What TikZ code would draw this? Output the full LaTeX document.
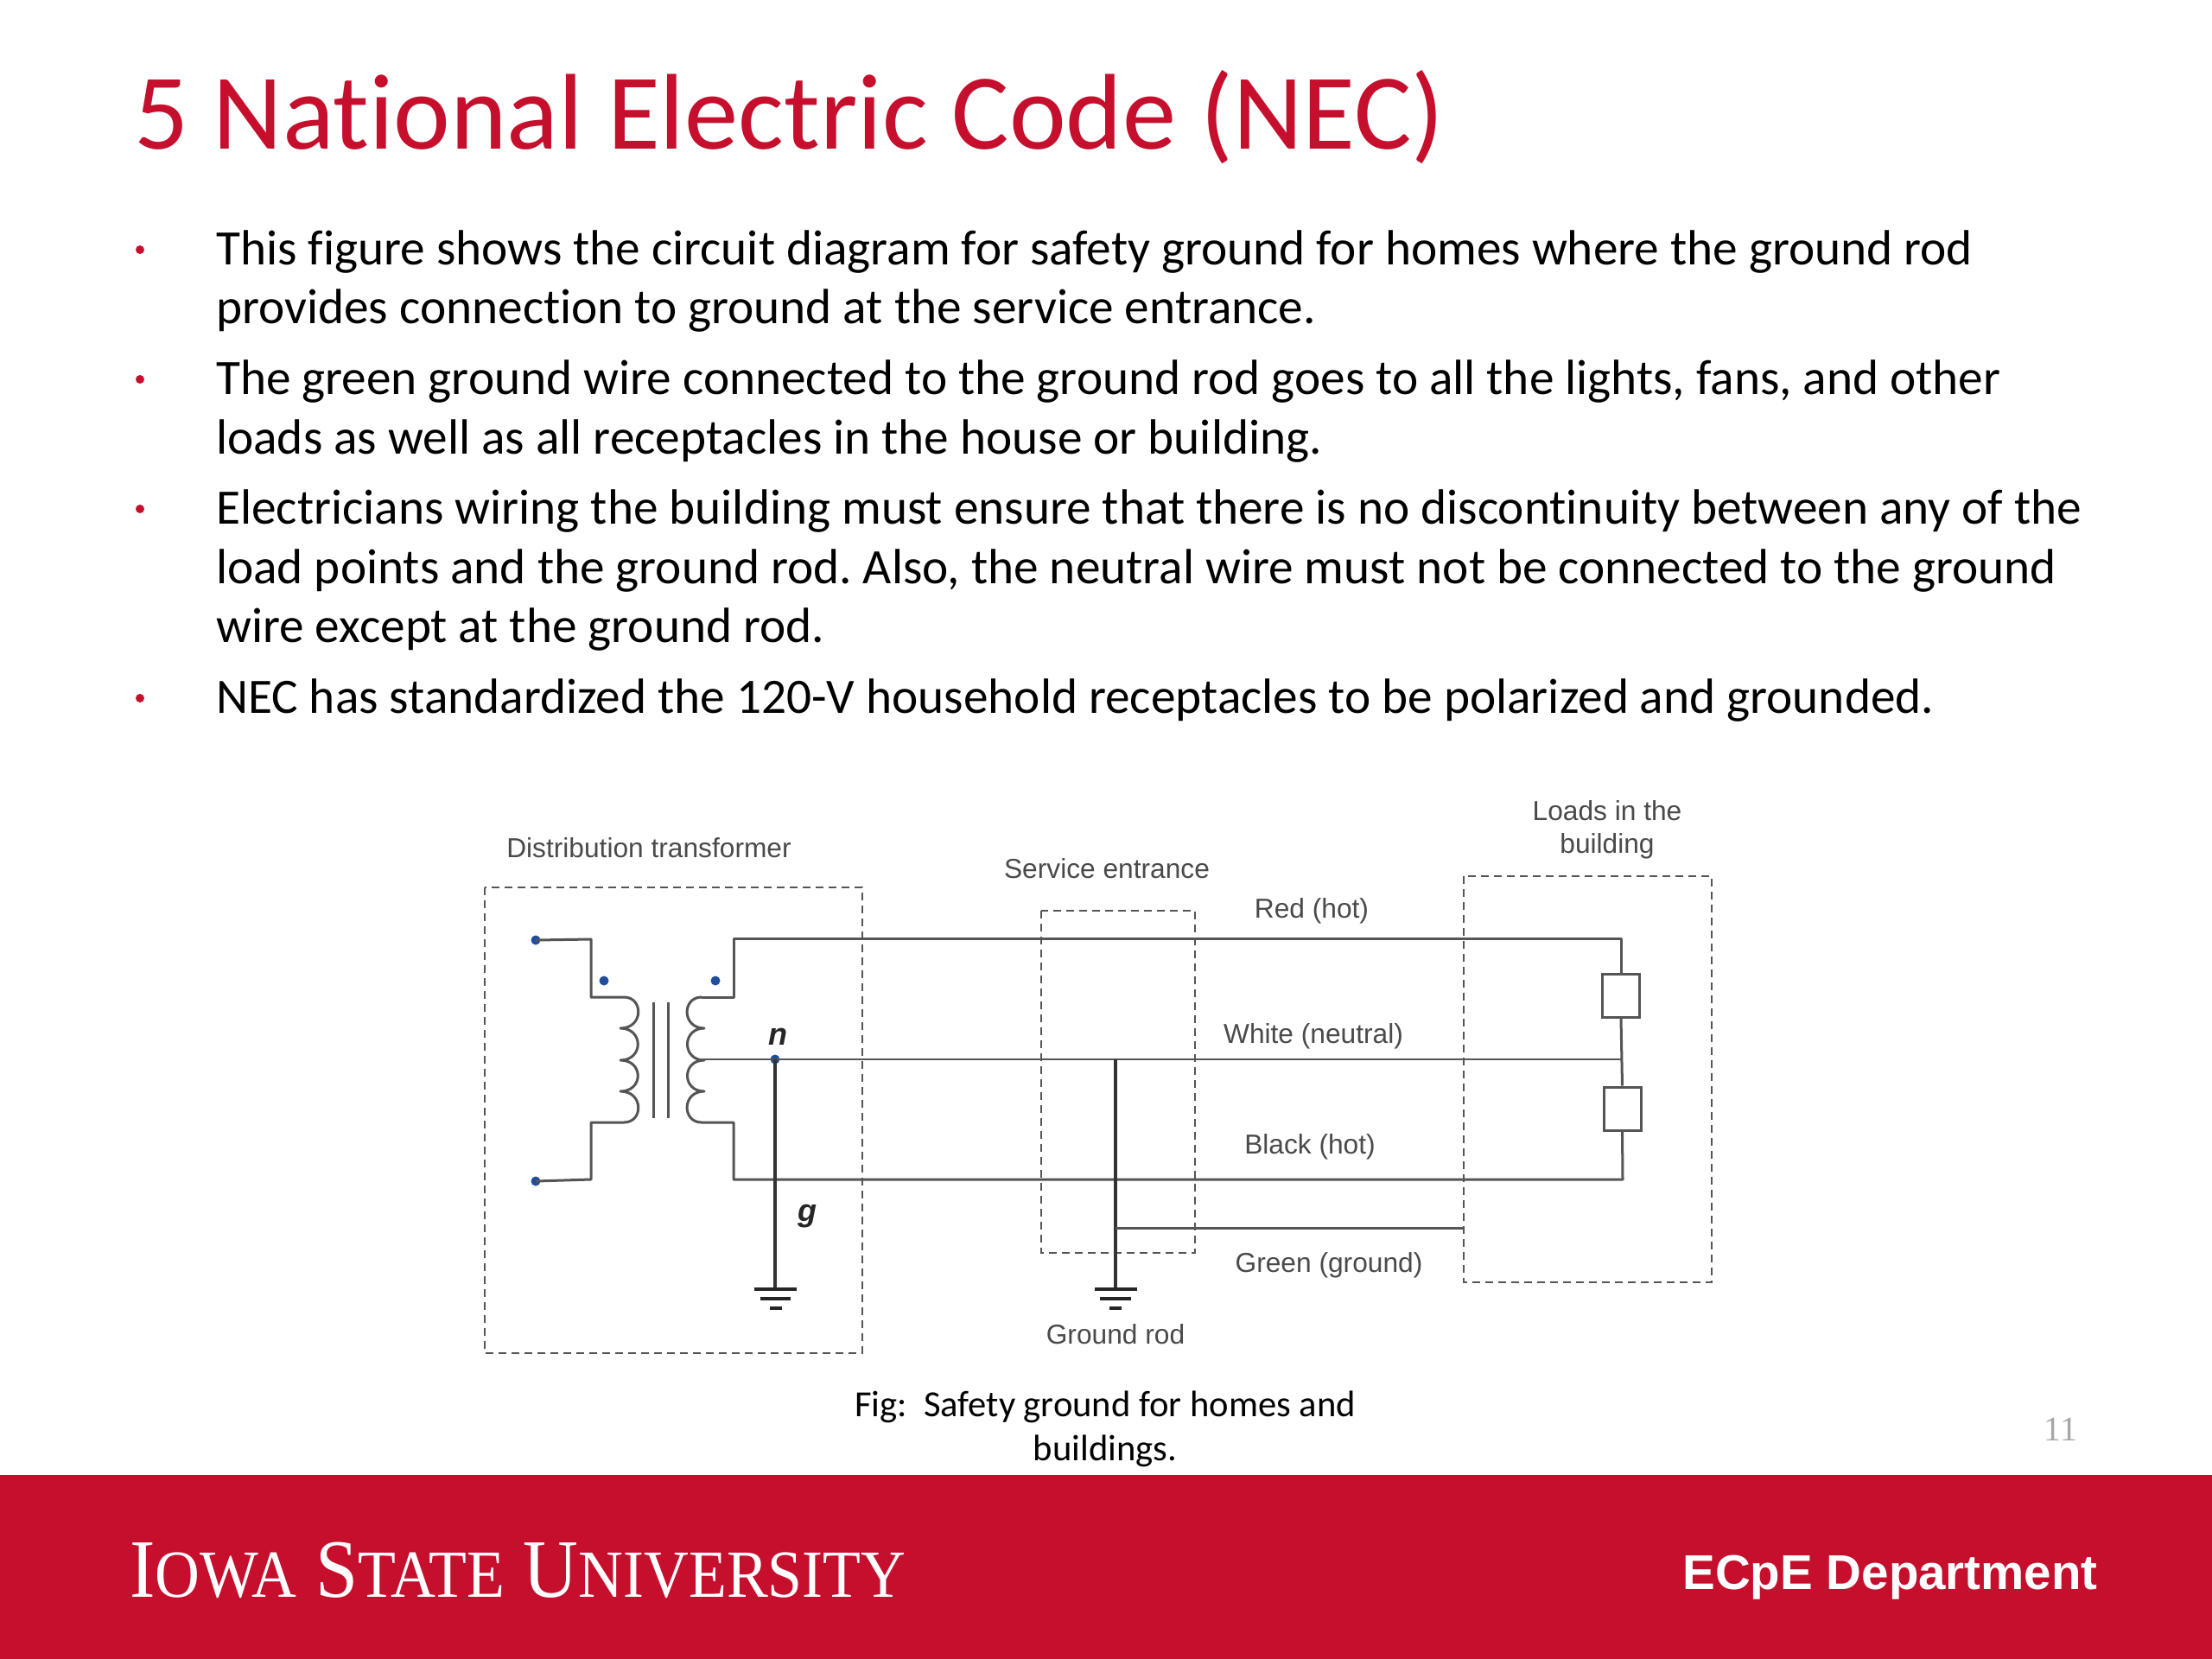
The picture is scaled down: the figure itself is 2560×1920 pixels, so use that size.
\documentclass[tikz,border=0pt]{standalone}
\usepackage{fontspec}
\setmainfont[Ligatures=NoCommon]{Carlito}
\newfontfamily\lab{Liberation Sans}
\newfontfamily\tms{Liberation Serif}
\definecolor{cardinal}{HTML}{C60F2D}
\definecolor{wire}{HTML}{555555}
\definecolor{labgray}{HTML}{4A4A4A}
\definecolor{dotblue}{HTML}{1F4E9E}
\frenchspacing
\tikzset{
  x=1pt,y=-1pt,
  titletext/.style={anchor=base west,inner sep=0,text=cardinal,font=\fontsize{124.6}{130}\selectfont},
  bodytext/.style={anchor=base west,inner sep=0,text=black,font=\fontsize{57.3}{64}\selectfont},
  bul/.style={circle,fill=cardinal,inner sep=0,minimum size=10pt},
  diag/.style={inner sep=0,text=labgray,font=\lab\fontsize{31.7}{38}\selectfont},
  letter/.style={inner sep=0,text=black!85,font=\lab\bfseries\itshape\fontsize{36}{38}\selectfont},
  captext/.style={inner sep=0,text=black,font=\fontsize{42.6}{48}\selectfont},
  wireline/.style={draw=wire,line width=3pt,line join=round},
  thin wire/.style={draw=wire,line width=2.6pt,line join=round},
  thick wire/.style={draw=black!80,line width=4.4pt},
  gbar/.style={draw=black!85,line width=4pt},
  dashbox/.style={draw=wire,line width=2.8pt,dash pattern=on 9pt off 6pt,fill=none},
  loadbox/.style={draw=wire,line width=3pt,fill=white,inner sep=0,minimum width=43pt,minimum height=50pt},
  termdot/.style={circle,fill=dotblue,inner sep=0,minimum size=11pt},
}
\begin{document}
\begin{tikzpicture}
\useasboundingbox (0,0) rectangle (2560,1920);
\fill[white] (0,0) rectangle (2560,1920);
% footer
\fill[cardinal] (0,1707) rectangle (2560,1920);
% title and bullets
\node[titletext] (title) at (155,172) {5 National Electric Code (NEC)};
\foreach \i/\yy in {1/289,2/439,3/589,4/808}{\node[bul] (b\i) at (162,\yy) {};}
\node[bodytext] (t1) at (250,306) {This figure shows the circuit diagram for safety ground for homes where the ground rod};
\node[bodytext] (t2) at (250,374) {provides connection to ground at the service entrance.};
\node[bodytext] (t3) at (250,456) {The green ground wire connected to the ground rod goes to all the lights, fans, and other};
\node[bodytext] (t4) at (250,525) {loads as well as all receptacles in the house or building.};
\node[bodytext] (t5) at (250,606.5) {Electricians wiring the building must ensure that there is no discontinuity between any of the};
\node[bodytext] (t6) at (250,675) {load points and the ground rod. Also, the neutral wire must not be connected to the ground};
\node[bodytext] (t7) at (250,743) {wire except at the ground rod.};
\node[bodytext] (t8) at (250,825) {NEC has standardized the 120-V household receptacles to be polarized and grounded.};
% dashed boxes
\draw[dashbox] (561,1027) rectangle (998,1566);
\draw[dashbox] (1205,1054) rectangle (1383,1450);
\draw[dashbox] (1694,1014) rectangle (1981,1484);
% named points
\node[termdot] (pt) at (620,1088) {};
\node[termdot] (pb) at (620,1367) {};
\node[termdot] (d1) at (699,1135) {};
\node[termdot] (d2) at (828,1135) {};
\node[termdot] (nn) at (897,1226) {};
\node[loadbox] (L1) at (1876,1152) {};
\node[loadbox] (L2) at (1877.5,1283) {};
\coordinate (pcT) at (722,1154);
\coordinate (pcB) at (722,1299);
\coordinate (scT) at (812,1154);
\coordinate (scB) at (812,1299);
\coordinate (scM) at (813,1226);
\coordinate (sT) at (849,1154);
\coordinate (sB) at (849,1299);
\coordinate (redE) at (1876,1086);
\coordinate (whE) at (1877,1226);
\coordinate (blkE) at (1878,1365);
\coordinate (rod) at (1291,1226);
\coordinate (rodG) at (1291,1492);
\coordinate (nG) at (897,1492);
\coordinate (grnS) at (1291,1421);
\coordinate (grnE) at (1694,1421);
% primary wires
\draw[wireline] (pt.center) -- (684,1087) -- (684,1154) -- (pcT);
\draw[wireline] (pb.center) -- (684,1365) -- (684,1299) -- (pcB);
% primary coil
\draw[wireline] (pcT) .. controls (745,1154) and (745,1190) .. (718,1190)
   .. controls (745,1190) and (745,1227) .. (718,1227)
   .. controls (745,1227) and (745,1263) .. (718,1263)
   .. controls (745,1263) and (745,1299) .. (pcB);
% core
\coordinate (c1a) at (756,1160); \coordinate (c1b) at (756,1294);
\coordinate (c2a) at (773,1160); \coordinate (c2b) at (773,1294);
\draw[wireline] (c1a) -- (c1b);
\draw[wireline] (c2a) -- (c2b);
% secondary coil
\draw[wireline] (scT) .. controls (789,1154) and (789,1190) .. (815,1190)
   .. controls (789,1190) and (789,1227) .. (815,1227)
   .. controls (789,1227) and (789,1263) .. (815,1263)
   .. controls (789,1263) and (789,1299) .. (scB);
% secondary wires
\draw[wireline] (scT) -- (sT) -- (849,1086) -- (redE) -- (L1.north);
\draw[wireline] (scB) -- (sB) -- (849,1365) -- (blkE) -- (L2.south);
\draw[thin wire] (scM) -- (whE);
\draw[wireline] (L1.south) -- (L2.north);
% grounds
\draw[thick wire] (nn.center) -- (nG);
\draw[thick wire] (rod) -- (rodG);
\draw[wireline] (grnS) -- (grnE);
\draw[gbar] (873,1492) -- (922,1492); \draw[gbar] (880,1503) -- (915,1503); \draw[gbar] (891,1514) -- (905,1514);
\draw[gbar] (1267,1492) -- (1316,1492); \draw[gbar] (1273,1503) -- (1309,1503); \draw[gbar] (1284,1514) -- (1298,1514);
% labels
\node[diag] (ldt) at (751,981) {Distribution transformer};
\node[diag] (lse) at (1281,1005) {Service entrance};
\node[diag,align=center] (llb) at (1860,961) {\strut Loads in the\\[0pt]\strut building};
\node[diag] (lrd) at (1518,1054) {Red (hot)};
\node[diag] (lwh) at (1520,1199) {White (neutral)};
\node[diag] (lbk) at (1516,1327) {Black (hot)};
\node[diag] (lgn) at (1538,1464) {Green (ground)};
\node[diag] (lgr) at (1291,1544) {Ground rod};
\node[letter] (ln) at (900,1200) {n};
\node[letter] (lg) at (934,1408) {g};
% caption
\node[captext] (cap1) at (1279,1628) {Fig:\ \ Safety ground for homes and};
\node[captext] (cap2) at (1279,1679) {buildings.};
\node[inner sep=0,text=black!35,font=\tms\fontsize{40}{44}\selectfont] (pg) at (2385,1654) {11};
% footer text
\node[anchor=base west,inner sep=0,text=white,font=\tms\fontsize{96}{100}\selectfont] (isu) at (150,1848)
  {\scalebox{0.92}[1]{I{\fontsize{78}{80}\selectfont OWA} S{\fontsize{78}{80}\selectfont TATE} U{\fontsize{78}{80}\selectfont NIVERSITY}}};
\node[anchor=base east,inner sep=0,text=white,font=\lab\bfseries\fontsize{56.5}{60}\selectfont] (ecpe) at (2428,1839) {ECpE Department};
\end{tikzpicture}
\end{document}
